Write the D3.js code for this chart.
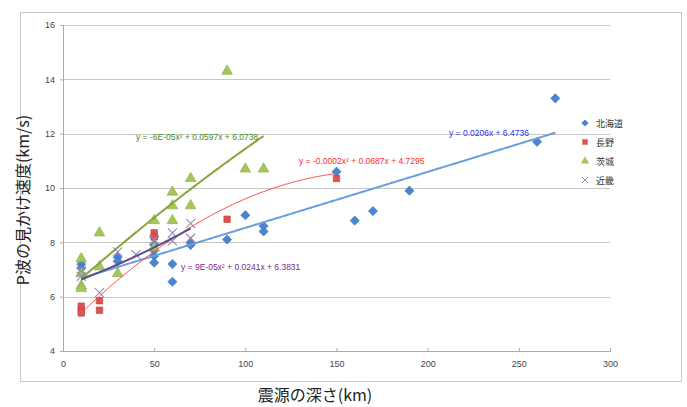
<!DOCTYPE html>
<html><head><meta charset="utf-8">
<script src="https://cdn.jsdelivr.net/npm/d3@7"></script>
<style>
body{margin:0;background:#fff;}
svg{display:block;font-family:"Liberation Sans","DejaVu Sans",sans-serif;}
</style></head>
<body><svg id="c" width="687" height="407"></svg>
<script>
// Data
const seriesNames = ["北海道", "長野", "茨城", "近畿"];
const hokkaido = [[10,7.2],[10,7.05],[30,7.45],[30,7.3],[50,8.2],[50,7.9],[50,7.7],[50,7.5],[50,7.25],[60,7.2],[60,6.55],[70,8.0],[70,7.9],[90,8.1],[100,9.0],[110,8.6],[110,8.4],[150,10.6],[160,8.8],[170,9.15],[190,9.9],[260,11.7],[270,13.3]];
const nagano = [[10,5.65],[10,5.5],[10,5.4],[20,5.85],[20,5.5],[50,8.35],[50,8.2],[90,8.85],[150,10.35]];
const ibaraki = [[10,7.4],[10,6.85],[10,6.4],[10,6.3],[20,8.35],[20,7.1],[30,6.85],[50,8.8],[50,7.8],[60,9.85],[60,9.35],[60,8.8],[70,10.35],[70,9.35],[90,14.3],[100,10.7],[110,10.7]];
const kinki = [[10,6.95],[10,6.75],[20,6.15],[30,7.65],[40,7.55],[50,8.1],[60,8.35],[60,8.05],[70,8.7],[70,8.15]];
// trendline coefficients [a2, a1, a0] and x-range
const trendHokkaido = [0, 0.0206, 6.4736], rangeHokkaido = [10, 270];
const trendNagano = [-0.0002, 0.0687, 4.7295], rangeNagano = [10, 150];
const trendIbaraki = [-0.00006, 0.0597, 6.0738], rangeIbaraki = [10, 110];
const trendKinki = [0.00009, 0.0241, 6.3831], rangeKinki = [10, 70];
const eqHokkaido = "y = 0.0206x + 6.4736";
const eqNagano = "y = -0.0002x² + 0.0687x + 4.7295";
const eqIbaraki = "y = -6E-05x² + 0.0597x + 6.0738";
const eqKinki = "y = 9E-05x² + 0.0241x + 6.3831";
const xTicks = [0,50,100,150,200,250,300];
const yTicks = [4,6,8,10,12,14,16];
const xTitle = "震源の深さ(km)";
const yTitle = "P波の見かけ速度(km/s)";

const svg = d3.select("#c");
const x = d3.scaleLinear().domain([0,300]).range([63,610]);
const y = d3.scaleLinear().domain([4,16]).range([351,25]);

// outer frame
svg.append("rect").attr("x",20.5).attr("y",12.5).attr("width",661).attr("height",369)
  .attr("fill","#fff").attr("stroke","#c8c8c8").attr("stroke-width",1);

// gridlines
svg.append("g").selectAll("line").data(yTicks.filter(d=>d>4)).join("line")
  .attr("x1",x(0)).attr("x2",x(300)).attr("y1",d=>Math.round(y(d))+0.5).attr("y2",d=>Math.round(y(d))+0.5)
  .attr("stroke","#c8c8c8").attr("stroke-width",1.2);

// axes
const gy = svg.append("g").attr("transform",`translate(${x(0)},0)`)
  .call(d3.axisLeft(y).tickValues(yTicks).tickSize(3).tickPadding(5));
const gx = svg.append("g").attr("transform",`translate(0,${y(4)})`)
  .call(d3.axisBottom(x).tickValues(xTicks).tickSize(-3).tickPadding(10));
[gx,gy].forEach(g=>{
  g.selectAll("path,line").attr("stroke","#aaa");
  g.selectAll("text").attr("fill","#444").style("font-size","9px");
});

svg.append("text").attr("x",315).attr("y",401).attr("text-anchor","middle")
  .style("font-size","16px").attr("fill","#222").attr("font-family","'Noto Sans CJK JP',sans-serif").text(xTitle);
svg.append("text").attr("transform","translate(29,200) rotate(-90)").attr("text-anchor","middle")
  .style("font-size","16px").attr("fill","#222").attr("font-family","'Noto Sans CJK JP',sans-serif").text(yTitle);

// trendlines
function trend(c, r){ return d3.range(r[0], r[1]+0.01, 1).map(v=>[v, c[0]*v*v + c[1]*v + c[2]]); }
const line = d3.line().x(d=>x(d[0])).y(d=>y(d[1]));
const trends = [
  [trendHokkaido, rangeHokkaido, "#6a9ede", 2],
  [trendNagano, rangeNagano, "#ff4a4a", 1],
  [trendIbaraki, rangeIbaraki, "#88a53c", 2],
  [trendKinki, rangeKinki, "#5f4b8b", 2]
];

// markers
const cBlue = "#4a86cf", cRed = "#e0524f", cGreen = "#a5c75a", cPurple = "#9b86c2";
const diamond = "M0,-4.6L4.6,0L0,4.6L-4.6,0Z";
const square = d3.symbol().type(d3.symbolSquare).size(42);
const tri = d3.symbol().type(d3.symbolTriangle).size(50);

function drawPoints(data, sym, fill, stroke){
  svg.append("g").selectAll("path").data(data).join("path")
    .attr("d", sym).attr("transform", d=>`translate(${x(d[0])},${y(d[1])})`)
    .attr("fill", fill).attr("stroke", stroke).attr("stroke-width",0.6);
}
drawPoints(hokkaido, diamond, cBlue, "#3a70b0");
drawPoints(nagano, square, cRed, "#c04040");
drawPoints(ibaraki, tri, cGreen, "#8aad45");
svg.append("g").selectAll("path").data(kinki).join("path")
  .attr("d","M-4.5,-4.5L4.5,4.5M-4.5,4.5L4.5,-4.5")
  .attr("transform", d=>`translate(${x(d[0])},${y(d[1])})`)
  .attr("stroke", cPurple).attr("stroke-width",1.1).attr("fill","none");

trends.forEach(t=>{
  svg.append("path").datum(trend(t[0],t[1])).attr("d",line)
    .attr("fill","none").attr("stroke",t[2]).attr("stroke-width",t[3]);
});

// equation labels
const eqs = [
  [eqIbaraki, 136, 140, "#3f8a1e"],
  [eqNagano, 299, 164, "#ff2b2b"],
  [eqHokkaido, 449, 136, "#2b2bff"],
  [eqKinki, 181, 270, "#7b2a86"]
];
eqs.forEach(e=>{
  svg.append("text").attr("x",e[1]).attr("y",e[2]).attr("fill",e[3]).style("font-size","8.5px").text(e[0]);
});

// legend
const leg = svg.append("g");
const legY = [123,142,161,180];
const legCol = [cBlue, cRed, cGreen];
seriesNames.forEach((n,i)=>{
  if(i===0){
    leg.append("path").attr("d","M0,-3.6L3.6,0L0,3.6L-3.6,0Z").attr("transform",`translate(585,${legY[i]})`).attr("fill",cBlue);
  } else if(i<3){
    leg.append("path").attr("d", d3.symbol().type([d3.symbolDiamond,d3.symbolSquare,d3.symbolTriangle][i]).size(30))
      .attr("transform",`translate(585,${legY[i]})`).attr("fill",legCol[i]);
  } else {
    leg.append("path").attr("d","M-3,-3L3,3M-3,3L3,-3").attr("transform",`translate(585,${legY[i]})`)
      .attr("stroke",cPurple).attr("stroke-width",1);
  }
  leg.append("text").attr("x",596).attr("y",legY[i]+3.5).style("font-size","9px").attr("fill","#333")
    .attr("font-family","'Noto Sans CJK JP',sans-serif").text(n);
});
</script></body></html>
